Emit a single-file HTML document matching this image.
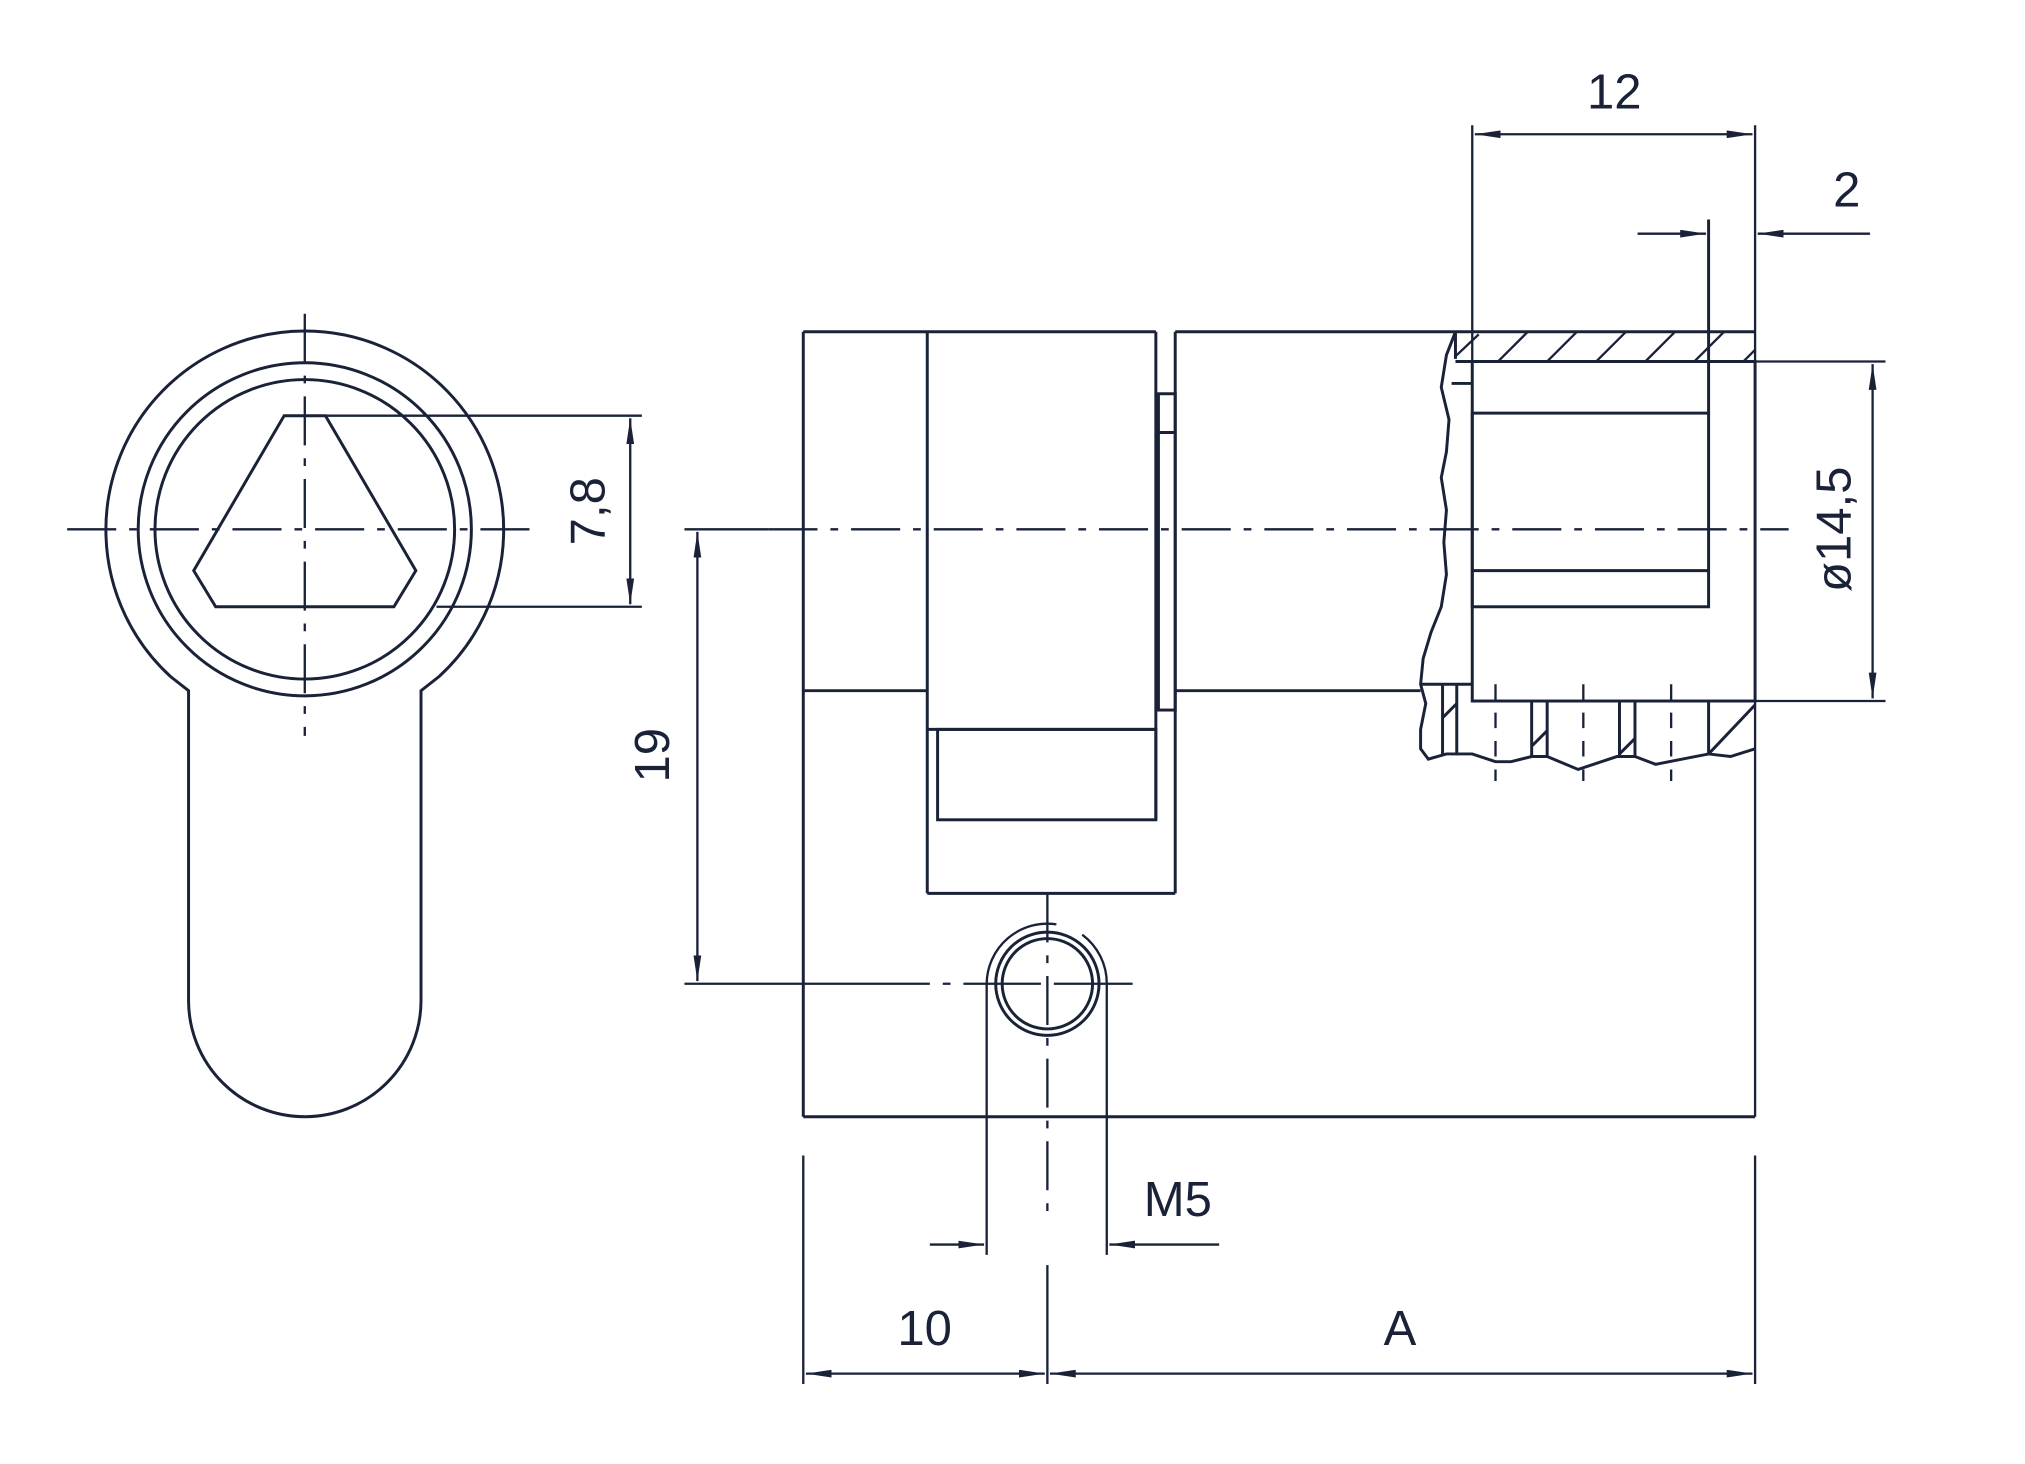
<!DOCTYPE html>
<html><head><meta charset="utf-8"><style>html,body{margin:0;padding:0;background:#fff}svg{display:block}</style></head>
<body>
<svg width="2025" height="1464" viewBox="0 0 1568 1134" preserveAspectRatio="none" xmlns="http://www.w3.org/2000/svg" fill="none" stroke="#1a2238" stroke-width="2.3">
<defs>
<marker id="a" viewBox="0 0 20 6" refX="20" refY="3" markerWidth="20" markerHeight="6" markerUnits="userSpaceOnUse" orient="auto-start-reverse"><path d="M0,0 L20,3 L0,6 Z" fill="#1a2238" stroke="none"/></marker>
</defs>
<g id="left">
<path d="M146,535 L132,524 A154 154 0 1 1 340,524 L326,535 L326,775 A90 90 0 0 1 146,775 Z"/>
<circle cx="236" cy="410" r="129"/>
<circle cx="236" cy="410" r="116"/>
<path d="M220,322 L252,322 L322,442 L305,470 L167,470 L150,442 Z"/>
<line x1="252" y1="322" x2="497" y2="322" stroke-width="1.8"/>
<line x1="338" y1="470" x2="497" y2="470" stroke-width="1.8"/>
<line x1="488" y1="324" x2="488" y2="468" stroke-width="1.8" marker-start="url(#a)" marker-end="url(#a)"/>
<line x1="52" y1="410" x2="420" y2="410" stroke-width="1.8" stroke-dasharray="38,10,6,10"/>
<line x1="236" y1="243" x2="236" y2="570" stroke-width="1.8" stroke-dasharray="38,10,6,10"/>
</g>
<g id="right">
<line x1="622" y1="257" x2="895" y2="257"/>
<line x1="910" y1="257" x2="1127" y2="257"/>
<line x1="622" y1="257" x2="622" y2="865"/>
<line x1="622" y1="865" x2="1359" y2="865"/>
<line x1="1359" y1="97" x2="1359" y2="865" stroke-width="1.8"/>
<line x1="718" y1="257" x2="718" y2="692"/>
<line x1="622" y1="535" x2="718" y2="535"/>
<line x1="718" y1="692" x2="910" y2="692"/>
<line x1="895" y1="257" x2="895" y2="635"/>
<line x1="910" y1="257" x2="910" y2="692"/>
<line x1="718" y1="565" x2="895" y2="565"/>
<rect x="726" y="565" width="169" height="70"/>
<rect x="897" y="305" width="13" height="245"/>
<line x1="897" y1="335" x2="910" y2="335"/>
<line x1="910" y1="535" x2="1100" y2="535"/>
<path d="M1127,257 L1120,275 L1116,300 L1122,325 L1120,350 L1116,370 L1120,395 L1118,420 L1120,445 L1116,470 L1108,490 L1102,510 L1100,530 L1104,545 L1100,565 L1100,580 L1106,588 L1120,584 L1140,584 L1158,590 L1170,590 L1186,586 L1198,586 L1222,596 L1252,586 L1266,586 L1282,592 L1323,584 L1340,586 L1359,580"/>
<line x1="1127" y1="257" x2="1359" y2="257"/>
<line x1="1127" y1="280" x2="1359" y2="280"/>
<line x1="1127" y1="257" x2="1127" y2="278"/>
<line x1="1124" y1="297" x2="1140" y2="297"/>
<g stroke-width="1.8">
<line x1="1127" y1="276" x2="1145" y2="259"/>
<line x1="1160" y1="280" x2="1183" y2="257"/>
<line x1="1198" y1="280" x2="1221" y2="257"/>
<line x1="1236" y1="280" x2="1259" y2="257"/>
<line x1="1274" y1="280" x2="1297" y2="257"/>
<line x1="1312" y1="280" x2="1335" y2="257"/>
<line x1="1350" y1="280" x2="1359" y2="271"/>
</g>
<rect x="1140" y="280" width="219" height="263"/>
<rect x="1140" y="320" width="183" height="150"/>
<line x1="1140" y1="442" x2="1323" y2="442"/>
<line x1="1140" y1="97" x2="1140" y2="280" stroke-width="1.8"/>
<line x1="1323" y1="170" x2="1323" y2="320"/>
<line x1="1100" y1="530" x2="1140" y2="530"/>
<line x1="1117" y1="530" x2="1117" y2="585"/>
<line x1="1128" y1="530" x2="1128" y2="585"/>
<line x1="1117" y1="556" x2="1128" y2="545"/>
<line x1="1186" y1="543" x2="1186" y2="586"/>
<line x1="1198" y1="543" x2="1198" y2="586"/>
<line x1="1186" y1="578" x2="1198" y2="566"/>
<line x1="1254" y1="543" x2="1254" y2="586"/>
<line x1="1266" y1="543" x2="1266" y2="586"/>
<line x1="1254" y1="584" x2="1266" y2="572"/>
<line x1="1323" y1="543" x2="1323" y2="584"/>
<line x1="1323" y1="584" x2="1359" y2="546"/>
<g stroke-width="1.8" stroke-dasharray="12,10">
<line x1="1158" y1="530" x2="1158" y2="605"/>
<line x1="1226" y1="530" x2="1226" y2="605"/>
<line x1="1294" y1="530" x2="1294" y2="605"/>
</g>
<line x1="595" y1="410" x2="1385" y2="410" stroke-width="1.8" stroke-dasharray="38,10,6,10"/>
<circle cx="811" cy="762" r="40"/>
<circle cx="811" cy="762" r="35"/>
<path d="M764,762 A47 47 0 0 1 818,716" stroke-width="1.8"/>
<path d="M838,724 A47 47 0 0 1 857,762" stroke-width="1.8"/>
<line x1="764" y1="762" x2="764" y2="972" stroke-width="1.8"/>
<line x1="857" y1="762" x2="857" y2="972" stroke-width="1.8"/>
<line x1="811" y1="692" x2="811" y2="945" stroke-width="1.8" stroke-dasharray="38,10,6,10"/>
<line x1="811" y1="980" x2="811" y2="1072" stroke-width="1.8"/>
<line x1="530" y1="762" x2="877" y2="762" stroke-width="1.8" stroke-dasharray="190,10,6,10,60,10"/>
<line x1="530" y1="410" x2="595" y2="410" stroke-width="1.8"/>
<g stroke-width="1.8">
<line x1="540" y1="412" x2="540" y2="760" marker-start="url(#a)" marker-end="url(#a)"/>
<line x1="1142" y1="104" x2="1357" y2="104" marker-start="url(#a)" marker-end="url(#a)"/>
<line x1="1268" y1="181" x2="1321" y2="181" marker-end="url(#a)"/>
<line x1="1448" y1="181" x2="1361" y2="181" marker-end="url(#a)"/>
<line x1="1359" y1="280" x2="1460" y2="280"/>
<line x1="1359" y1="543" x2="1460" y2="543"/>
<line x1="1450" y1="282" x2="1450" y2="541" marker-start="url(#a)" marker-end="url(#a)"/>
<line x1="720" y1="964" x2="762" y2="964" marker-end="url(#a)"/>
<line x1="944" y1="964" x2="859" y2="964" marker-end="url(#a)"/>
<line x1="622" y1="895" x2="622" y2="1072"/>
<line x1="1359" y1="895" x2="1359" y2="1072"/>
<line x1="624" y1="1064" x2="809" y2="1064" marker-start="url(#a)" marker-end="url(#a)"/>
<line x1="813" y1="1064" x2="1357" y2="1064" marker-start="url(#a)" marker-end="url(#a)"/>
</g>
</g>
<g fill="#1a2238" stroke="none" font-family="Liberation Sans, sans-serif" font-size="38" text-anchor="middle">
<text x="1250" y="84">12</text>
<text x="1430" y="160">2</text>
<text x="912" y="942">M5</text>
<text x="716" y="1042">10</text>
<text x="1084" y="1042">A</text>
<text transform="translate(468,396) rotate(-90)">7,8</text>
<text transform="translate(518,585) rotate(-90)">19</text>
<text transform="translate(1433,410) rotate(-90)">ø14,5</text>
</g>
</svg>
</body></html>
